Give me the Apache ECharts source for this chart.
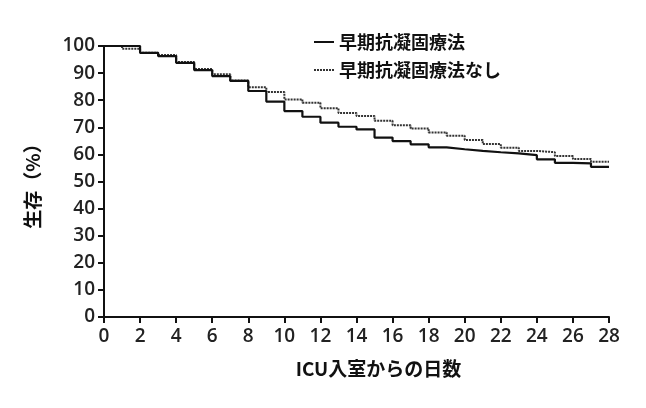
<!DOCTYPE html>
<html><head><meta charset="utf-8">
<script src="https://cdn.jsdelivr.net/npm/echarts@6/dist/echarts.min.js"></script>
<style>html,body{margin:0;padding:0;background:#fff}#c{width:646px;height:408px}</style>
</head><body><div id="c"></div>
<script>
const days = [0,1,2,3,4,5,6,7,8,9,10,11,12,13,14,15,16,17,18,19,20,21,22,23,24,25,26,27,28];
const earlyAC = [100,100,97.5,96.3,93.8,91.1,88.9,87.1,83.4,79.5,76.0,73.9,71.7,70.2,69.2,66.2,64.9,63.7,62.6,61.9,61.3,60.8,60.4,59.7,58.2,56.9,56.7,55.4,55.4];
const noEarlyAC = [100,99.0,97.5,96.7,94.1,91.5,89.6,87.3,84.8,83.0,80.3,79.1,77.0,75.3,74.2,72.4,70.8,69.6,68.1,66.9,65.3,63.8,62.5,61.3,60.8,59.4,58.3,57.3,57.3];
const seriesNames = ['早期抗凝固療法','早期抗凝固療法なし'];
const xTitle = 'ICU入室からの日数';
const yTitle = '生存（%）';

const chart = echarts.init(document.getElementById('c'));
const cjk = '"Noto Sans CJK JP", "Noto Sans", sans-serif';
const num = '"Open Sans", "Noto Sans", sans-serif';
chart.setOption({
  animation:false,
  grid:{left:104,right:37,top:46,bottom:91,containLabel:false},
  legend:{
    orient:'vertical', left:308, top:28, itemWidth:20, itemHeight:10, itemGap:10,
    itemStyle:{opacity:0},
    textStyle:{fontFamily:cjk,fontWeight:'bold',fontSize:18,lineHeight:18,color:'#111'},
    data:seriesNames
  },
  xAxis:{
    type:'value',min:0,max:28,interval:2,
    name:xTitle,nameLocation:'middle',nameGap:42,
    nameTextStyle:{fontFamily:cjk,fontWeight:'bold',fontSize:19,color:'#111',padding:[0,0,0,44]},
    axisLine:{show:true,lineStyle:{color:'#111',width:2}},
    axisTick:{show:true,length:6,lineStyle:{color:'#111',width:2}},
    axisLabel:{fontFamily:num,fontSize:19,fontWeight:600,color:'#222',margin:10},
    splitLine:{show:false}
  },
  yAxis:{
    type:'value',min:0,max:100,interval:10,
    name:yTitle,nameLocation:'middle',nameGap:62,nameRotate:90,
    nameTextStyle:{fontFamily:cjk,fontWeight:'bold',fontSize:19,color:'#111'},
    axisLine:{show:true,lineStyle:{color:'#111',width:2}},
    axisTick:{show:true,length:6,lineStyle:{color:'#111',width:2}},
    axisLabel:{fontFamily:num,fontSize:19,fontWeight:600,color:'#222',margin:9},
    splitLine:{show:false}
  },
  series:[
    {name:seriesNames[0],type:'line',step:'end',showSymbol:false,symbol:'none',
     data:days.map((d,i)=>[d,earlyAC[i]]),
     lineStyle:{color:'#111',width:2.2},itemStyle:{color:'#111'},z:3},
    {name:seriesNames[1],type:'line',step:'end',showSymbol:false,symbol:'none',
     data:days.map((d,i)=>[d,noEarlyAC[i]]),
     lineStyle:{color:'#333',width:2,type:[2,1]},itemStyle:{color:'#333'},z:2}
  ]
});
</script></body></html>
